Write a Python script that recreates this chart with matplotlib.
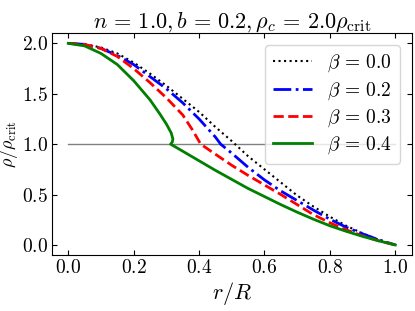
import numpy as np
import matplotlib
matplotlib.use('Agg')
import matplotlib.pyplot as plt

# density profiles, rho / rho_crit vs r / R
x_b00 = [0.0, 0.05, 0.1, 0.15, 0.2, 0.25, 0.3, 0.35, 0.4, 0.45, 0.5, 0.55,
         0.6, 0.65, 0.7, 0.75, 0.8, 0.85, 0.9, 0.95, 1.0]
y_b00 = [2.0, 1.99, 1.96, 1.90, 1.81, 1.70, 1.58, 1.45, 1.32, 1.17, 1.03, 0.88,
         0.75, 0.62, 0.49, 0.38, 0.28, 0.19, 0.115, 0.05, 0.0]

x_b02 = [0.0, 0.05, 0.1, 0.15, 0.2, 0.25, 0.3, 0.35, 0.4, 0.45, 0.466, 0.5,
         0.55, 0.6, 0.65, 0.7, 0.75, 0.8, 0.85, 0.9, 0.95, 1.0]
y_b02 = [2.0, 1.99, 1.95, 1.88, 1.79, 1.67, 1.55, 1.41, 1.25, 1.07, 1.0, 0.91,
         0.77, 0.645, 0.535, 0.44, 0.345, 0.255, 0.175, 0.11, 0.05, 0.0]

x_b03 = [0.0, 0.05, 0.1, 0.15, 0.2, 0.25, 0.3, 0.35, 0.38, 0.405, 0.45, 0.5,
         0.55, 0.6, 0.65, 0.7, 0.75, 0.8, 0.85, 0.9, 0.95, 1.0]
y_b03 = [2.0, 1.99, 1.95, 1.87, 1.75, 1.61, 1.46, 1.29, 1.14, 1.0, 0.90, 0.79,
         0.69, 0.595, 0.50, 0.40, 0.30, 0.22, 0.15, 0.09, 0.04, 0.0]

x_b04 = [0.0, 0.05, 0.1, 0.15, 0.2, 0.25, 0.28, 0.3, 0.315, 0.32, 0.318, 0.313,
         0.35, 0.4, 0.45, 0.5, 0.55, 0.6, 0.65, 0.7, 0.75, 0.8, 0.85, 0.9,
         0.95, 1.0]
y_b04 = [2.0, 1.975, 1.90, 1.79, 1.63, 1.44, 1.30, 1.20, 1.11, 1.05, 1.02, 1.0,
         0.93, 0.835, 0.74, 0.65, 0.56, 0.48, 0.40, 0.325, 0.255, 0.19, 0.135,
         0.085, 0.04, 0.0]

crit_x = [0.0, 1.0]
crit_y = [1.0, 1.0]

plt.rcParams['font.family'] = 'serif'
plt.rcParams['font.serif'] = ['cmr10']
plt.rcParams['mathtext.fontset'] = 'cm'
plt.rcParams['axes.formatter.use_mathtext'] = True
plt.rcParams['axes.unicode_minus'] = False

fig, ax = plt.subplots(figsize=(4.15, 3.11), dpi=100)
fig.subplots_adjust(left=0.125, right=0.992, bottom=0.18, top=0.893)

ax.plot(crit_x, crit_y, color='gray', linewidth=1)
ax.plot(x_b00, y_b00, ':', color='black', linewidth=1.5, label=r'$\beta \,=\, 0.0$')
ax.plot(x_b02, y_b02, '-.', color='blue', linewidth=2, label=r'$\beta \,=\, 0.2$')
ax.plot(x_b03, y_b03, '--', color='red', linewidth=2, label=r'$\beta \,=\, 0.3$')
ax.plot(x_b04, y_b04, '-', color='green', linewidth=2, label=r'$\beta \,=\, 0.4$')

ax.set_title(r'$n \,=\, 1.0, b \,=\, 0.2, \rho_c \,=\, 2.0\rho_{\rm crit}$',
             fontsize=16, pad=4)
ax.set_xlabel(r'$r/R$', fontsize=16, labelpad=2)
ax.set_ylabel(r'$\rho/\rho_{\rm crit}$', fontsize=13, labelpad=1)
ax.tick_params(direction='in', top=True, right=True, labelsize=14, pad=3)
ax.set_xticks([0.0, 0.2, 0.4, 0.6, 0.8, 1.0])
ax.set_yticks([0.0, 0.5, 1.0, 1.5, 2.0])
ax.legend(loc='upper right', fontsize=14, labelspacing=0.3,
          borderaxespad=0.6)

fig.savefig('out.png', dpi=100)
